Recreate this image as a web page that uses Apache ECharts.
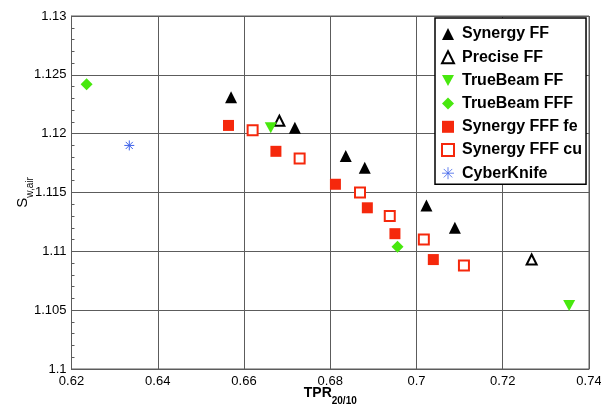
<!DOCTYPE html>
<html>
<head>
<meta charset="utf-8">
<script src="https://cdn.jsdelivr.net/npm/echarts@6/dist/echarts.min.js"></script>
<style>
  html, body { margin: 0; padding: 0; background: #fff; }
  #chart { width: 601px; height: 408px; }
</style>
</head>
<body>
<div id="chart"></div>
<script>
// [TPR20/10, Sw,air] pairs per linac
const synergyFF = [[0.6570, 1.1231], [0.6718, 1.1205], [0.6836, 1.1181], [0.6880, 1.1171], [0.7023, 1.1139], [0.7089, 1.1120]];
const preciseFF = [[0.6682, 1.1211], [0.7267, 1.1093]];
const trueBeamFF = [[0.6662, 1.1205], [0.7354, 1.1054]];
const trueBeamFFF = [[0.6235, 1.1242], [0.6956, 1.1104]];
const synergyFFFfe = [[0.6564, 1.1207], [0.6674, 1.1185], [0.6812, 1.1157], [0.6886, 1.1137], [0.6950, 1.1115], [0.7039, 1.1093]];
const synergyFFFcu = [[0.6620, 1.1203], [0.6729, 1.1179], [0.6869, 1.1150], [0.6938, 1.1130], [0.7017, 1.1110], [0.7110, 1.1088]];
const cyberKnife = [[0.6334, 1.1190]];

const seriesNames = ['Synergy FF', 'Precise FF', 'TrueBeam FF', 'TrueBeam FFF', 'Synergy FFF fe', 'Synergy FFF cu', 'CyberKnife'];

const FONT = '"Liberation Sans", Arial, Helvetica, sans-serif';
const GREEN = '#48e80e';
const RED = '#f5280c';
const BLUE = '#3f63ea';
const GRIDC = '#5c5c5c';

const asterisk = 'path://M5,0 L5,10 M0,5 L10,5 M1.46,1.46 L8.54,8.54 M8.54,1.46 L1.46,8.54';
const downTriangle = 'path://M0,0 L12,0 L6,11 Z';

const chart = echarts.init(document.getElementById('chart'), null, { renderer: 'canvas' });

chart.setOption({
  animation: false,
  backgroundColor: '#fff',
  grid: {
    left: 71.5, right: 12, top: 16, bottom: 39,
    containLabel: false, outerBoundsMode: 'none',
    show: true, borderColor: GRIDC, borderWidth: 1, backgroundColor: 'transparent'
  },
  xAxis: {
    type: 'value', min: 0.62, max: 0.74, interval: 0.02,
    name: '{a|TPR}{b|20/10}',
    nameLocation: 'middle', nameGap: 11, nameMoveOverlap: false,
    nameTextStyle: {
      rich: {
        a: { fontFamily: FONT, fontSize: 14, fontWeight: 'bold', color: '#000' },
        b: { fontFamily: FONT, fontSize: 10, fontWeight: 'bold', color: '#000', padding: [16, 0, 0, 0] }
      }
    },
    axisLine: { show: true, onZero: false, lineStyle: { color: GRIDC, width: 1 } },
    axisTick: { show: true, inside: true, length: 3, lineStyle: { color: GRIDC } },
    axisLabel: { fontFamily: FONT, fontSize: 13, color: '#000', margin: 6 },
    splitLine: { show: true, lineStyle: { color: GRIDC, width: 1 } }
  },
  yAxis: {
    type: 'value', min: 1.1, max: 1.13, interval: 0.005,
    name: '{a|S}{b|w,air}',
    nameLocation: 'middle', nameGap: 36, nameRotate: 90, nameMoveOverlap: false,
    nameTextStyle: {
      rich: {
        a: { fontFamily: FONT, fontSize: 15, color: '#000' },
        b: { fontFamily: FONT, fontSize: 10, color: '#000', padding: [16, 0, 0, 0] }
      }
    },
    axisLine: { show: true, onZero: false, lineStyle: { color: GRIDC, width: 1 } },
    axisTick: { show: true, inside: true, length: 3, lineStyle: { color: GRIDC } },
    minorTick: { show: true, splitNumber: 5, length: 3, lineStyle: { color: GRIDC } },
    axisLabel: { fontFamily: FONT, fontSize: 13, color: '#000', margin: 5 },
    splitLine: { show: true, lineStyle: { color: GRIDC, width: 1 } }
  },
  legend: {
    orient: 'vertical',
    left: 435, top: 18,
    data: seriesNames.map(function (n) {
      if (n === 'TrueBeam FF') return { name: n, icon: downTriangle };
      if (n === 'CyberKnife') return { name: n, itemStyle: { borderWidth: 0.8 } };
      return { name: n };
    }),
    backgroundColor: '#fff',
    borderColor: '#000', borderWidth: 1.5,
    padding: [8, 4, 3, 6],
    itemWidth: 12, itemHeight: 12,
    itemGap: 7.2,
    textStyle: { fontFamily: FONT, fontSize: 16, fontWeight: 'bold', color: '#000', lineHeight: 16, padding: [0, 0, 0, 3] }
  },
  series: [
    {
      name: seriesNames[0], type: 'scatter', data: synergyFF,
      symbol: 'triangle', symbolSize: 12,
      itemStyle: { color: '#000', opacity: 1 }
    },
    {
      name: seriesNames[1], type: 'scatter', data: preciseFF,
      symbol: 'triangle', symbolSize: 10,
      itemStyle: { color: '#fff', borderColor: '#000', borderWidth: 2, opacity: 1 }
    },
    {
      name: seriesNames[2], type: 'scatter', data: trueBeamFF,
      symbol: 'triangle', symbolRotate: 180, symbolSize: [12, 11],
      itemStyle: { color: GREEN, opacity: 1 }
    },
    {
      name: seriesNames[3], type: 'scatter', data: trueBeamFFF,
      symbol: 'diamond', symbolSize: 12,
      itemStyle: { color: GREEN, opacity: 1 }
    },
    {
      name: seriesNames[4], type: 'scatter', data: synergyFFFfe,
      symbol: 'rect', symbolSize: 11,
      itemStyle: { color: RED, opacity: 1 }
    },
    {
      name: seriesNames[5], type: 'scatter', data: synergyFFFcu,
      symbol: 'rect', symbolSize: 10,
      itemStyle: { color: '#fff', borderColor: RED, borderWidth: 2, opacity: 1 }
    },
    {
      name: seriesNames[6], type: 'scatter', data: cyberKnife,
      symbol: asterisk, symbolSize: 10,
      itemStyle: { color: 'transparent', borderColor: BLUE, borderWidth: 1, opacity: 1 }
    }
  ]
});
</script>
</body>
</html>
